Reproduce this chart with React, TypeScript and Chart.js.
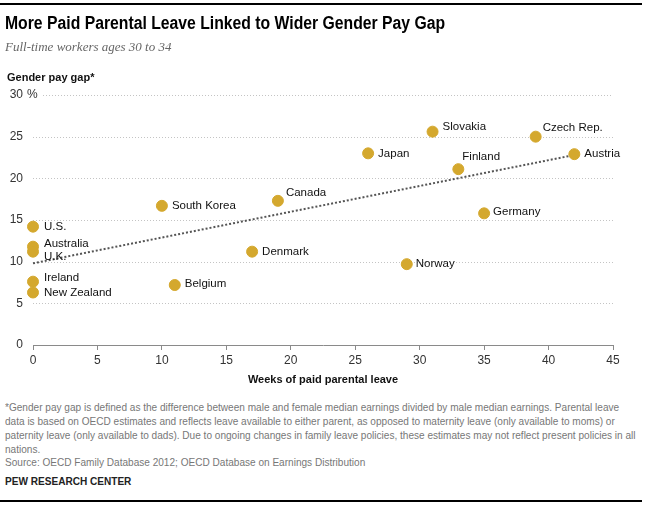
import React, { useEffect, useRef } from "react";
import { Chart, registerables } from "chart.js";

Chart.register(...registerables);

const countries = [
  "U.S.", "Australia", "U.K.", "Ireland", "New Zealand", "South Korea", "Belgium",
  "Denmark", "Canada", "Japan", "Slovakia", "Czech Rep.", "Austria", "Finland",
  "Germany", "Norway",
];
const leaveWeeks = [0, 0, 0, 0, 0, 10, 11, 17, 19, 26, 31, 39, 42, 33, 35, 29];
const payGap = [14.2, 11.8, 11.2, 7.6, 6.3, 16.7, 7.2, 11.2, 17.3, 23.0, 25.6, 25.0, 22.9, 21.1, 15.8, 9.7];
const trendX = [0, 42];
const trendY = [9.8, 22.8];
const xTicks = [0, 5, 10, 15, 20, 25, 30, 35, 40, 45];
const yTicks = [0, 5, 10, 15, 20, 25, 30];

// label placement (pixel offsets from point centre)
const labelOffsets: Record<string, [number, number]> = {
  "U.S.": [11, 0],
  Australia: [11, -3],
  "U.K.": [11, 5],
  Ireland: [11, -4],
  "New Zealand": [11, 0],
  "South Korea": [10, 0],
  Belgium: [10, -1],
  Denmark: [10, 0],
  Canada: [8, -8],
  Japan: [10, 0],
  Slovakia: [10, -5],
  "Czech Rep.": [7, -9],
  Austria: [10, 0],
  Finland: [4, -12],
  Germany: [9, -2],
  Norway: [9, 0],
};

const SANS = "'Liberation Sans', Arial, sans-serif";

const gridAndLabels = {
  id: "gridAndLabels",
  beforeDatasetsDraw(chart: any) {
    const { ctx, scales } = chart;
    const x = scales.x;
    const y = scales.y;
    ctx.save();
    ctx.strokeStyle = "#c4c4c4";
    ctx.lineWidth = 1;
    ctx.setLineDash([1, 2]);
    for (const v of yTicks) {
      if (v === 0) continue;
      const py = Math.round(y.getPixelForValue(v)) + 0.5;
      const startX = v === 30 ? x.getPixelForValue(0) + 10 : x.getPixelForValue(0);
      ctx.beginPath();
      ctx.moveTo(startX, py);
      ctx.lineTo(x.getPixelForValue(45), py);
      ctx.stroke();
    }
    ctx.restore();
  },
  afterDatasetsDraw(chart: any) {
    const { ctx, scales } = chart;
    const x = scales.x;
    const y = scales.y;
    ctx.save();
    ctx.font = `12px ${SANS}`;
    ctx.fillStyle = "#333";
    ctx.textBaseline = "middle";
    ctx.textAlign = "left";
    ctx.fillText("%", 27, y.getPixelForValue(30));
    ctx.font = `11.5px ${SANS}`;
    ctx.fillStyle = "#111";
    countries.forEach((c, i) => {
      const px = x.getPixelForValue(leaveWeeks[i]);
      const py = y.getPixelForValue(payGap[i]);
      const [dx, dy] = labelOffsets[c] || [10, 0];
      ctx.fillText(c, px + dx, py + dy);
    });
    ctx.restore();
  },
};

function ScatterChart() {
  const ref = useRef<HTMLCanvasElement>(null);
  useEffect(() => {
    if (!ref.current) return;
    const chart = new Chart(ref.current, {
      type: "scatter",
      data: {
        datasets: [
          {
            type: "line",
            data: trendX.map((v, i) => ({ x: v, y: trendY[i] })),
            borderColor: "#555",
            borderWidth: 2,
            borderDash: [2, 2],
            pointRadius: 0,
            fill: false,
            clip: false,
            order: 2,
          } as any,
          {
            data: leaveWeeks.map((v, i) => ({ x: v, y: payGap[i] })),
            backgroundColor: "#D4A82E",
            borderColor: "#D4A82E",
            pointRadius: 5.5,
            pointHoverRadius: 5.5,
            clip: false,
            order: 1,
          } as any,
        ],
      },
      options: {
        animation: false,
        responsive: false,
        devicePixelRatio: 1,
        layout: { padding: { left: 0, top: 95, right: 32, bottom: 0 } },
        plugins: { legend: { display: false }, tooltip: { enabled: false } },
        scales: {
          x: {
            type: "linear",
            min: 0,
            max: 45,
            afterBuildTicks: (s: any) => {
              s.ticks = xTicks.map((v) => ({ value: v }));
            },
            afterFit: (s: any) => {
              s.height = 48;
            },
            border: { display: true, color: "#8a8a8a", width: 1 },
            grid: { display: true, drawOnChartArea: false, drawTicks: true, tickLength: 5, color: "#8a8a8a" },
            ticks: { color: "#333", font: { family: SANS, size: 12 }, padding: 3, maxRotation: 0 },
            title: {
              display: true,
              text: "Weeks of paid parental leave",
              color: "#111",
              font: { family: SANS, size: 11, weight: "bold" },
              padding: { top: 4, bottom: 6 },
            },
          },
          y: {
            type: "linear",
            min: 0,
            max: 30,
            afterBuildTicks: (s: any) => {
              s.ticks = yTicks.map((v) => ({ value: v }));
            },
            afterFit: (s: any) => {
              s.width = 33;
            },
            border: { display: false },
            grid: { display: false, drawTicks: false },
            ticks: { color: "#333", font: { family: SANS, size: 12 }, padding: 10 },
          },
        },
      },
      plugins: [gridAndLabels],
    });
    return () => chart.destroy();
  }, []);
  return (
    <canvas
      ref={ref}
      width={645}
      height={393}
      style={{ position: "absolute", left: 0, top: 0, width: 645, height: 393 }}
    />
  );
}

export default function App() {
  useEffect(() => {
    document.body.style.margin = "0";
  }, []);
  const foot: React.CSSProperties = {
    position: "absolute",
    left: 5,
    whiteSpace: "nowrap",
    fontFamily: SANS,
    fontSize: 11,
    color: "#777",
    lineHeight: "14px",
    transform: "scaleX(0.915)",
    transformOrigin: "0 0",
  };
  return (
    <div style={{ position: "relative", width: 645, height: 507, background: "#fff", overflow: "hidden" }}>
      <div style={{ position: "absolute", left: 0, top: 3, width: 642, height: 2, background: "#000" }} />
      <ScatterChart />
      <div style={{ position: "absolute", left: 5, top: 13, fontFamily: SANS, fontWeight: "bold", fontSize: 18, color: "#000", whiteSpace: "nowrap", transform: "scaleX(0.875)", transformOrigin: "0 0" }}>
        More Paid Parental Leave Linked to Wider Gender Pay Gap
      </div>
      <div style={{ position: "absolute", left: 5, top: 39, fontFamily: "'Liberation Serif', 'DejaVu Serif', serif", fontStyle: "italic", fontSize: 13, color: "#666", whiteSpace: "nowrap" }}>
        Full-time workers ages 30 to 34
      </div>
      <div style={{ position: "absolute", left: 7, top: 71, fontFamily: SANS, fontWeight: "bold", fontSize: 11, color: "#111", whiteSpace: "nowrap" }}>
        Gender pay gap*
      </div>
      <div style={{ ...foot, top: 400 }}>
        *Gender pay gap is defined as the difference between male and female median earnings divided by male median earnings. Parental leave
      </div>
      <div style={{ ...foot, top: 414 }}>
        data is based on OECD estimates and reflects leave available to either parent, as opposed to maternity leave (only available to moms) or
      </div>
      <div style={{ ...foot, top: 428 }}>
        paternity leave (only available to dads). Due to ongoing changes in family leave policies, these estimates may not reflect present policies in all
      </div>
      <div style={{ ...foot, top: 442 }}>nations.</div>
      <div style={{ ...foot, top: 455 }}>Source: OECD Family Database 2012; OECD Database on Earnings Distribution</div>
      <div style={{ ...foot, top: 474, fontWeight: "bold", color: "#222" }}>PEW RESEARCH CENTER</div>
      <div style={{ position: "absolute", left: 0, top: 500, width: 642, height: 2, background: "#000" }} />
    </div>
  );
}
